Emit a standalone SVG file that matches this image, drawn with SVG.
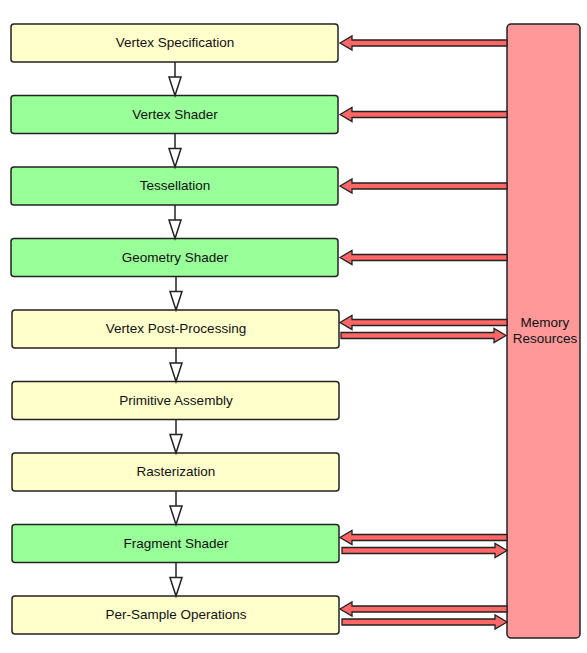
<svg xmlns="http://www.w3.org/2000/svg" width="587" height="653" viewBox="0 0 587 653">
<style>
.box{stroke:#222;stroke-width:1.5}
.y{fill:#ffffcc}
.g{fill:#99ff99}
.m{fill:#ff9999}
text{font-family:"Liberation Sans",Arial,sans-serif;font-size:13.5px;fill:#111;text-anchor:middle}
.blk{fill:#ff6666;stroke:#222;stroke-width:1.3;stroke-linejoin:miter}
.ln{stroke:#222;stroke-width:1.5;fill:none}
.tri{fill:#fff;stroke:#222;stroke-width:1.5}
</style>
<defs>
<path id="la" d="M0,0 L12,-7 L12,-3 L167,-3 L167,3 L12,3 L12,7 Z"/>
<path id="ra" d="M0,-3 L153,-3 L153,-7 L165,0 L153,7 L153,3 L0,3 Z"/>
<g id="down"><line x1="0" y1="0" x2="0" y2="15" class="ln"/><path d="M-6,15 L6,15 L0,33.5 Z" class="tri"/></g>
</defs>
<g id="mem"><rect class="box m" x="507" y="24" width="73" height="614" rx="4"/><text x="545" y="327">Memory</text><text x="545" y="343">Resources</text></g>
<g id="n1"><rect class="box y" x="11" y="24" width="327" height="38" rx="3"/><text x="175" y="47">Vertex Specification</text></g>
<g id="n2"><rect class="box g" x="11" y="95.5" width="327" height="38" rx="3"/><text x="175" y="118.5">Vertex Shader</text></g>
<g id="n3"><rect class="box g" x="11" y="167" width="327" height="38" rx="3"/><text x="175" y="190">Tessellation</text></g>
<g id="n4"><rect class="box g" x="11" y="238.5" width="327" height="38" rx="3"/><text x="175" y="261.5">Geometry Shader</text></g>
<g id="n5"><rect class="box y" x="12" y="310" width="327" height="38" rx="3"/><text x="176" y="333">Vertex Post-Processing</text></g>
<g id="n6"><rect class="box y" x="12" y="381.5" width="327" height="38" rx="3"/><text x="176" y="404.5">Primitive Assembly</text></g>
<g id="n7"><rect class="box y" x="12" y="453" width="327" height="38" rx="3"/><text x="176" y="476">Rasterization</text></g>
<g id="n8"><rect class="box g" x="12" y="524.5" width="327" height="38" rx="3"/><text x="176" y="547.5">Fragment Shader</text></g>
<g id="n9"><rect class="box y" x="12" y="596" width="327" height="38" rx="3"/><text x="176" y="619">Per-Sample Operations</text></g>
<g id="connectors">
<use href="#down" x="175" y="62"/>
<use href="#down" x="175" y="133.5"/>
<use href="#down" x="175" y="205"/>
<use href="#down" x="176" y="276.5"/>
<use href="#down" x="176" y="348"/>
<use href="#down" x="176" y="419.5"/>
<use href="#down" x="176" y="491"/>
<use href="#down" x="176" y="562.5"/>
<use href="#la" class="blk" x="340" y="43"/>
<use href="#la" class="blk" x="340" y="114.5"/>
<use href="#la" class="blk" x="340" y="186"/>
<use href="#la" class="blk" x="340" y="257.5"/>
<use href="#la" class="blk" x="340" y="322.5"/>
<use href="#ra" class="blk" x="341" y="335.5"/>
<use href="#la" class="blk" x="340" y="537.5"/>
<use href="#ra" class="blk" x="342" y="550.5"/>
<use href="#la" class="blk" x="340" y="609"/>
<use href="#ra" class="blk" x="342" y="622"/>
</g>
</svg>
